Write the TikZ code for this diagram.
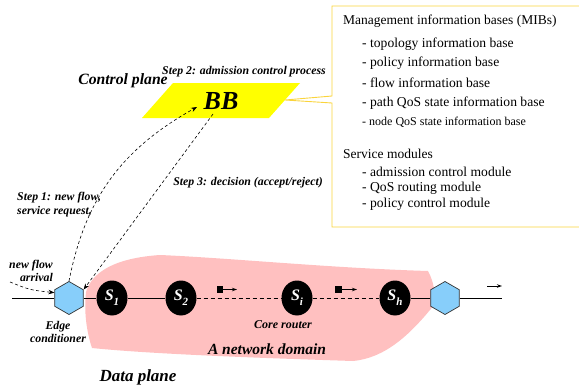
\documentclass[tikz,border=0pt]{standalone}
\usepackage{fontspec}
\setmainfont{Liberation Serif}[BoldItalicFont={* Bold Italic}]
\usetikzlibrary{shapes.geometric,arrows.meta}
\definecolor{pinkdom}{RGB}{255,192,192}
\definecolor{hexblue}{RGB}{135,206,250}
\definecolor{boxgold}{RGB}{250,212,60}
\definecolor{bbyellow}{RGB}{255,255,0}
\newcommand{\rsub}[2]{#1\raisebox{-0.32em}{\fontsize{11}{11}\selectfont #2}}
\begin{document}
\begin{tikzpicture}[x=1pt,y=-1pt,
  bi/.style={font=\bfseries\itshape\fontsize{#1}{#1}\selectfont},
  lbl/.style={bi=11.8,inner sep=0pt},
  router/.style={ellipse,fill=black,minimum width=31pt,minimum height=35pt,inner sep=0pt,text=white,font=\bfseries\itshape\fontsize{16}{16}\selectfont},
  edgecond/.style={regular polygon,regular polygon sides=6,shape border rotate=30,draw=black!80,line width=0.7pt,fill=hexblue,minimum size=33pt,inner sep=0pt},
  dsh/.style={dash pattern=on 3pt off 2.5pt,line width=0.6pt},
  tip/.style={-{Stealth[length=6pt,width=4.5pt]}},
  boxtxt/.style={anchor=west,inner sep=0pt,font=\fontsize{13.5}{13.5}\selectfont},
  itemtxt/.style={anchor=west,inner sep=0pt,font=\fontsize{13.6}{13.6}\selectfont},
  pkt/.style={fill=black,minimum size=6.5pt,inner sep=0pt}
]
\useasboundingbox (0,0) rectangle (579,388);
% network domain
\fill[pinkdom] (86,292) .. controls (92,272) and (115,258) .. (160,255)
  .. controls (230,258) and (330,268) .. (428,271)
  .. controls (434,282) and (436,295) .. (434,305)
  .. controls (410,335) and (385,358) .. (353,361)
  .. controls (260,358) and (150,354) .. (92,348)
  .. controls (86,330) and (84,310) .. (86,292) -- cycle;
% BB parallelogram
\fill[bbyellow] (142,118) -- (269,118) -- (300,83) -- (173,83) -- cycle;
\coordinate (notch) at (285,100);
% MIB box
\draw[boxgold,line width=0.9pt] (579,6) -- (332,6) -- (332,96) -- (notch) -- (332,103) -- (332,227) -- (579,227);
\node[boxtxt] (mib) at (343,21) {Management information bases (MIBs)};
\node[itemtxt] (m1) at (362,44) {- topology information base};
\node[itemtxt] (m2) at (362,63) {- policy information base};
\node[itemtxt] (m3) at (362,83) {- flow information base};
\node[itemtxt] (m4) at (362,103) {- path QoS state information base};
\node[itemtxt,font=\fontsize{12}{12}\selectfont] (m5) at (362,122) {- node QoS state information base};
\node[boxtxt] (svc) at (343,154) {Service modules};
\node[itemtxt] (s1) at (362,172) {- admission control module};
\node[itemtxt] (s2) at (362,188) {- QoS routing module};
\node[itemtxt] (s3) at (362,204) {- policy control module};
% BB
\node[inner sep=0pt,bi=26] (BB) at (221,101) {BB};
\node[inner sep=0pt,bi=15.7] (cp) at (123,81) {Control plane};
\node[lbl] (st2) at (244,72) {Step 2: admission control process};
\node[lbl] (st3) at (248,183) {Step 3: decision (accept/reject)};
\node[lbl,anchor=west,align=left] (st1) at (17,205) {Step 1: new flow,\\[2pt]service request,};
% nodes
\node[edgecond] (hexL) at (69,298) {};
\node[edgecond] (hexR) at (445,298) {};
\node[router] (S1) at (112,298) {\rsub{S}{1}};
\node[router] (S2) at (181,298) {\rsub{S}{2}};
\node[router] (Si) at (297,298) {\rsub{S}{i}};
\node[router] (Sh) at (395,298) {\rsub{S}{h}};
\coordinate (inL) at (12,298);
\coordinate (outR) at (502,298);
\draw[line width=0.7pt] (inL) -- (hexL) -- (S1) -- (S2);
\draw[line width=0.7pt,dash pattern=on 4pt off 3pt] (S2) -- (Si) -- (Sh);
\draw[line width=0.7pt] (Sh) -- (hexR) -- (outR);
% packets
\node[pkt] (p1) at (220,289.5) {};
\coordinate (p1e) at (237,289.5);
\draw[line width=0.6pt,-{Stealth[length=5pt,width=3.5pt,open]}] (p1) -- (p1e);
\node[pkt] (p2) at (338.5,289.5) {};
\coordinate (p2e) at (357,289.5);
\draw[line width=0.6pt,-{Stealth[length=5pt,width=3.5pt,open]}] (p2) -- (p2e);
\coordinate (a3s) at (487,286);
\coordinate (a3e) at (502,286);
\draw[line width=0.6pt,-{Stealth[length=5pt,width=3.5pt,open]}] (a3s) -- (a3e);
% labels data plane
\node[lbl,align=center] (ec) at (58,332) {Edge\\[1pt]conditioner};
\node[lbl,align=right,anchor=east] (nfa) at (53,271) {new flow\\[1pt]arrival};
\node[inner sep=0pt,bi=12] (cr) at (283,325) {Core router};
\node[inner sep=0pt,bi=15.5] (nd) at (267,349) {A network domain};
\node[inner sep=0pt,bi=17] (dp) at (138,377) {Data plane};
% dashed arrows
\coordinate (nfs) at (10,282);
\draw[dsh,tip] (nfs) .. controls (30,290) .. (hexL.160);
\coordinate (bbin) at (197,107);
\draw[dsh,tip] (hexL.north) .. controls (85,200) and (120,150) .. (bbin);
\coordinate (bbout) at (213,114);
\draw[dsh,tip] (bbout) -- (hexL.30);
\end{tikzpicture}
\end{document}
